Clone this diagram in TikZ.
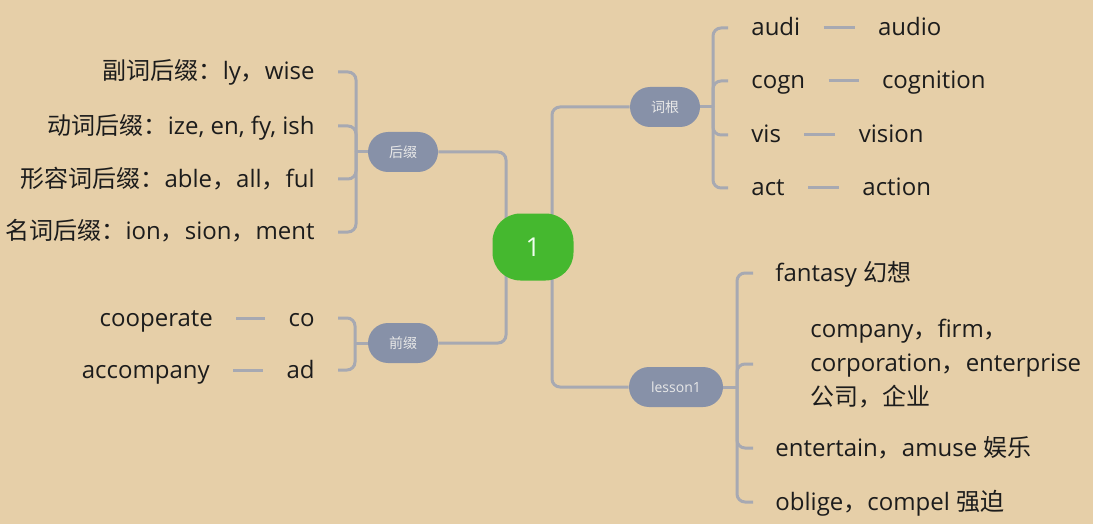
\documentclass[tikz,border=0pt]{standalone}
\usepackage{fontspec}
\setmainfont{Open Sans}
\newfontfamily\cjk{Noto Sans CJK SC}
\usepackage{tikz}
\usetikzlibrary{positioning}
\usepackage{xcolor}
\definecolor{paper}{HTML}{E6CFA8}
\definecolor{topicblue}{HTML}{8791A8}
\definecolor{rootgreen}{HTML}{45B82F}
\definecolor{branchgray}{HTML}{A7A9B2}
\definecolor{ink}{HTML}{1C1C1C}
\pgfdeclarelayer{paperlayer}
\pgfdeclarelayer{linelayer}
\pgfsetlayers{paperlayer,linelayer,main}

\begin{document}
\begin{tikzpicture}[x=0.5pt, y=-0.5pt,
  every node/.style={font=\fontsize{12}{17}\selectfont, text=ink},
  rootnode/.style={rectangle, rounded corners=14pt, fill=rootgreen, minimum width=40.5pt, minimum height=33.5pt, font=\fontsize{13}{15}\selectfont, text=green!6!white},
  topicnode/.style={rectangle, rounded corners=10pt, fill=topicblue, minimum width=35pt, minimum height=20pt, font=\fontsize{7}{8}\selectfont, text=white!82!gray},
  leaf/.style={inner xsep=11.5pt, inner ysep=2pt, text height=10pt, text depth=2pt},
  branch/.style={draw=branchgray, line width=1.5pt, rounded corners=4pt}]

\useasboundingbox (0,0) rectangle (1093,524);
\begin{pgfonlayer}{paperlayer}
\fill[paper] (0,0) rectangle (1093,524);
\end{pgfonlayer}

% Root
\node[rootnode] at (533,247) (root) {1};

% Main topics
\node[topicnode] at (403,152) (hz) {\cjk 后缀};
\node[topicnode] at (403,343) (qz) {\cjk 前缀};
\node[topicnode] at (665,107) (cg) {\cjk 词根};
\node[topicnode, minimum width=47pt] at (676,387) (ls) {lesson1};

% Suffixes
\node[leaf, anchor=east] at (338,72) (s1) {{\cjk 副词后缀：}ly{\cjk ，}wise};
\node[leaf, anchor=east] at (338,126) (s2) {{\cjk 动词后缀：}ize, en, fy, ish};
\node[leaf, anchor=east] at (338,179) (s3) {{\cjk 形容词后缀：}able{\cjk ，}all{\cjk ，}ful};
\node[leaf, anchor=east] at (338,232) (s4) {{\cjk 名词后缀：}ion{\cjk ，}sion{\cjk ，}ment};

% Prefixes
\node[leaf, anchor=east] at (338,318) (p1) {co};
\node[leaf, left=14.5pt of p1] (p1w) {cooperate};
\node[leaf, anchor=east] at (338,370) (p2) {ad};
\node[leaf, left=15pt of p2] (p2w) {accompany};

% Roots
\node[leaf, anchor=west] at (728,28) (r1) {audi};
\node[leaf, right=15.5pt of r1] (r1w) {audio};
\node[leaf, anchor=west] at (728,81) (r2) {cogn};
\node[leaf, right=15pt of r2] (r2w) {cognition};
\node[leaf, anchor=west] at (728,135) (r3) {vis};
\node[leaf, right=15.5pt of r3] (r3w) {vision};
\node[leaf, anchor=west] at (728,188) (r4) {act};
\node[leaf, right=15.5pt of r4] (r4w) {action};

% Lesson 1
\node[leaf, anchor=west, inner xsep=11pt] at (753,273) (l1) {fantasy {\cjk 幻想}};
\node[align=left, inner xsep=28.5pt, anchor=west] at (753,364) (l2)
  {company{\cjk ，}firm{\cjk ，}\\corporation{\cjk ，}enterprise\\{\cjk 公司，企业}};
\node[leaf, anchor=west, inner xsep=11pt] at (753,448) (l3) {entertain{\cjk ，}amuse {\cjk 娱乐}};
\node[leaf, anchor=west, inner xsep=11pt] at (753,502) (l4) {oblige{\cjk ，}compel {\cjk 强迫}};

\begin{pgfonlayer}{linelayer}
% Trunks behind the root
\coordinate (trunkL) at (506,247);
\coordinate (trunkR) at (552,247);
\draw[branch] (hz.east) -| (trunkL) |- (qz.east);
\draw[branch] (cg.west) -| (trunkR) |- (ls.west);

% Brackets
\coordinate (hzB) at (356,152);
\coordinate (qzB) at (355,343);
\coordinate (cgB) at (713,107);
\coordinate (lsB) at (737,387);
\draw[branch] (hz.west) -- (hzB);
\draw[branch] (qz.west) -- (qzB);
\draw[branch] (cg.east) -- (cgB);
\draw[branch] (ls.east) -- (lsB);
\foreach \n in {s1,s2,s3,s4}
  \draw[branch] (hzB) |- (\n.east);
\foreach \n in {p1,p2}
  \draw[branch] (qzB) |- (\n.east);
\foreach \n in {r1,r2,r3,r4}
  \draw[branch] (cgB) |- (\n.west);
\foreach \n in {l1,l2,l3,l4}
  \draw[branch] (lsB) |- (\n.west);

% Word ties
\foreach \a/\b in {p1w/p1, p2w/p2, r1/r1w, r2/r2w, r3/r3w, r4/r4w}
  \draw[branch] (\a) -- (\b);
\end{pgfonlayer}

\end{tikzpicture}
\end{document}
